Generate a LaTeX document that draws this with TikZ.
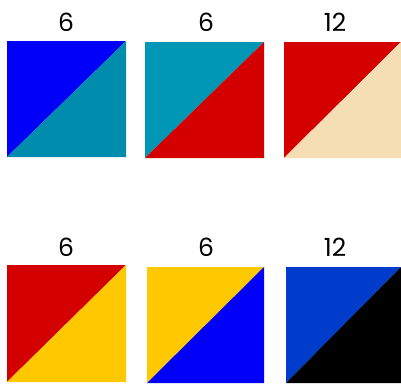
\documentclass[tikz,border=0pt]{standalone}
\usepackage{fontspec}
\setmainfont{Poppins}
\definecolor{cblue}{RGB}{0,0,250}
\definecolor{cteal}{RGB}{0,140,172}
\definecolor{cteal2}{RGB}{0,150,182}
\definecolor{cred}{RGB}{212,0,0}
\definecolor{cwheat}{RGB}{245,222,180}
\definecolor{cgold}{RGB}{255,200,0}
\definecolor{croyal}{RGB}{0,60,204}
\definecolor{cblack}{RGB}{0,0,0}
\begin{document}
\begin{tikzpicture}[x=1pt,y=-1pt,
  lbl/.style={font=\fontsize{25}{25}\selectfont, inner sep=0pt, text=black},
  halfsq/.pic={}]
\useasboundingbox (0,0) rectangle (401,383);
\newcommand\hsq[6]{% x0 y0 x1 y1 topleft bottomright
  \fill[#5] (#1,#2) -- (#3,#2) -- (#1,#4) -- cycle;
  \fill[#6] (#3,#2) -- (#3,#4) -- (#1,#4) -- cycle;
}
\hsq{7}{41}{126}{157}{cblue}{cteal}
\hsq{145}{42}{264}{158}{cteal2}{cred}
\hsq{284}{42}{401}{158}{cred}{cwheat}
\hsq{7}{265}{126}{382}{cred}{cgold}
\hsq{147}{267}{264}{383}{cgold}{cblue}
\hsq{286}{267}{401}{383}{croyal}{cblack}
\node[lbl] (l1) at (66,22) {6};
\node[lbl] (l2) at (206,22) {6};
\node[lbl] (l3) at (335,22) {12};
\node[lbl] (l4) at (66,247) {6};
\node[lbl] (l5) at (206,247) {6};
\node[lbl] (l6) at (335,247) {12};
\end{tikzpicture}
\end{document}
